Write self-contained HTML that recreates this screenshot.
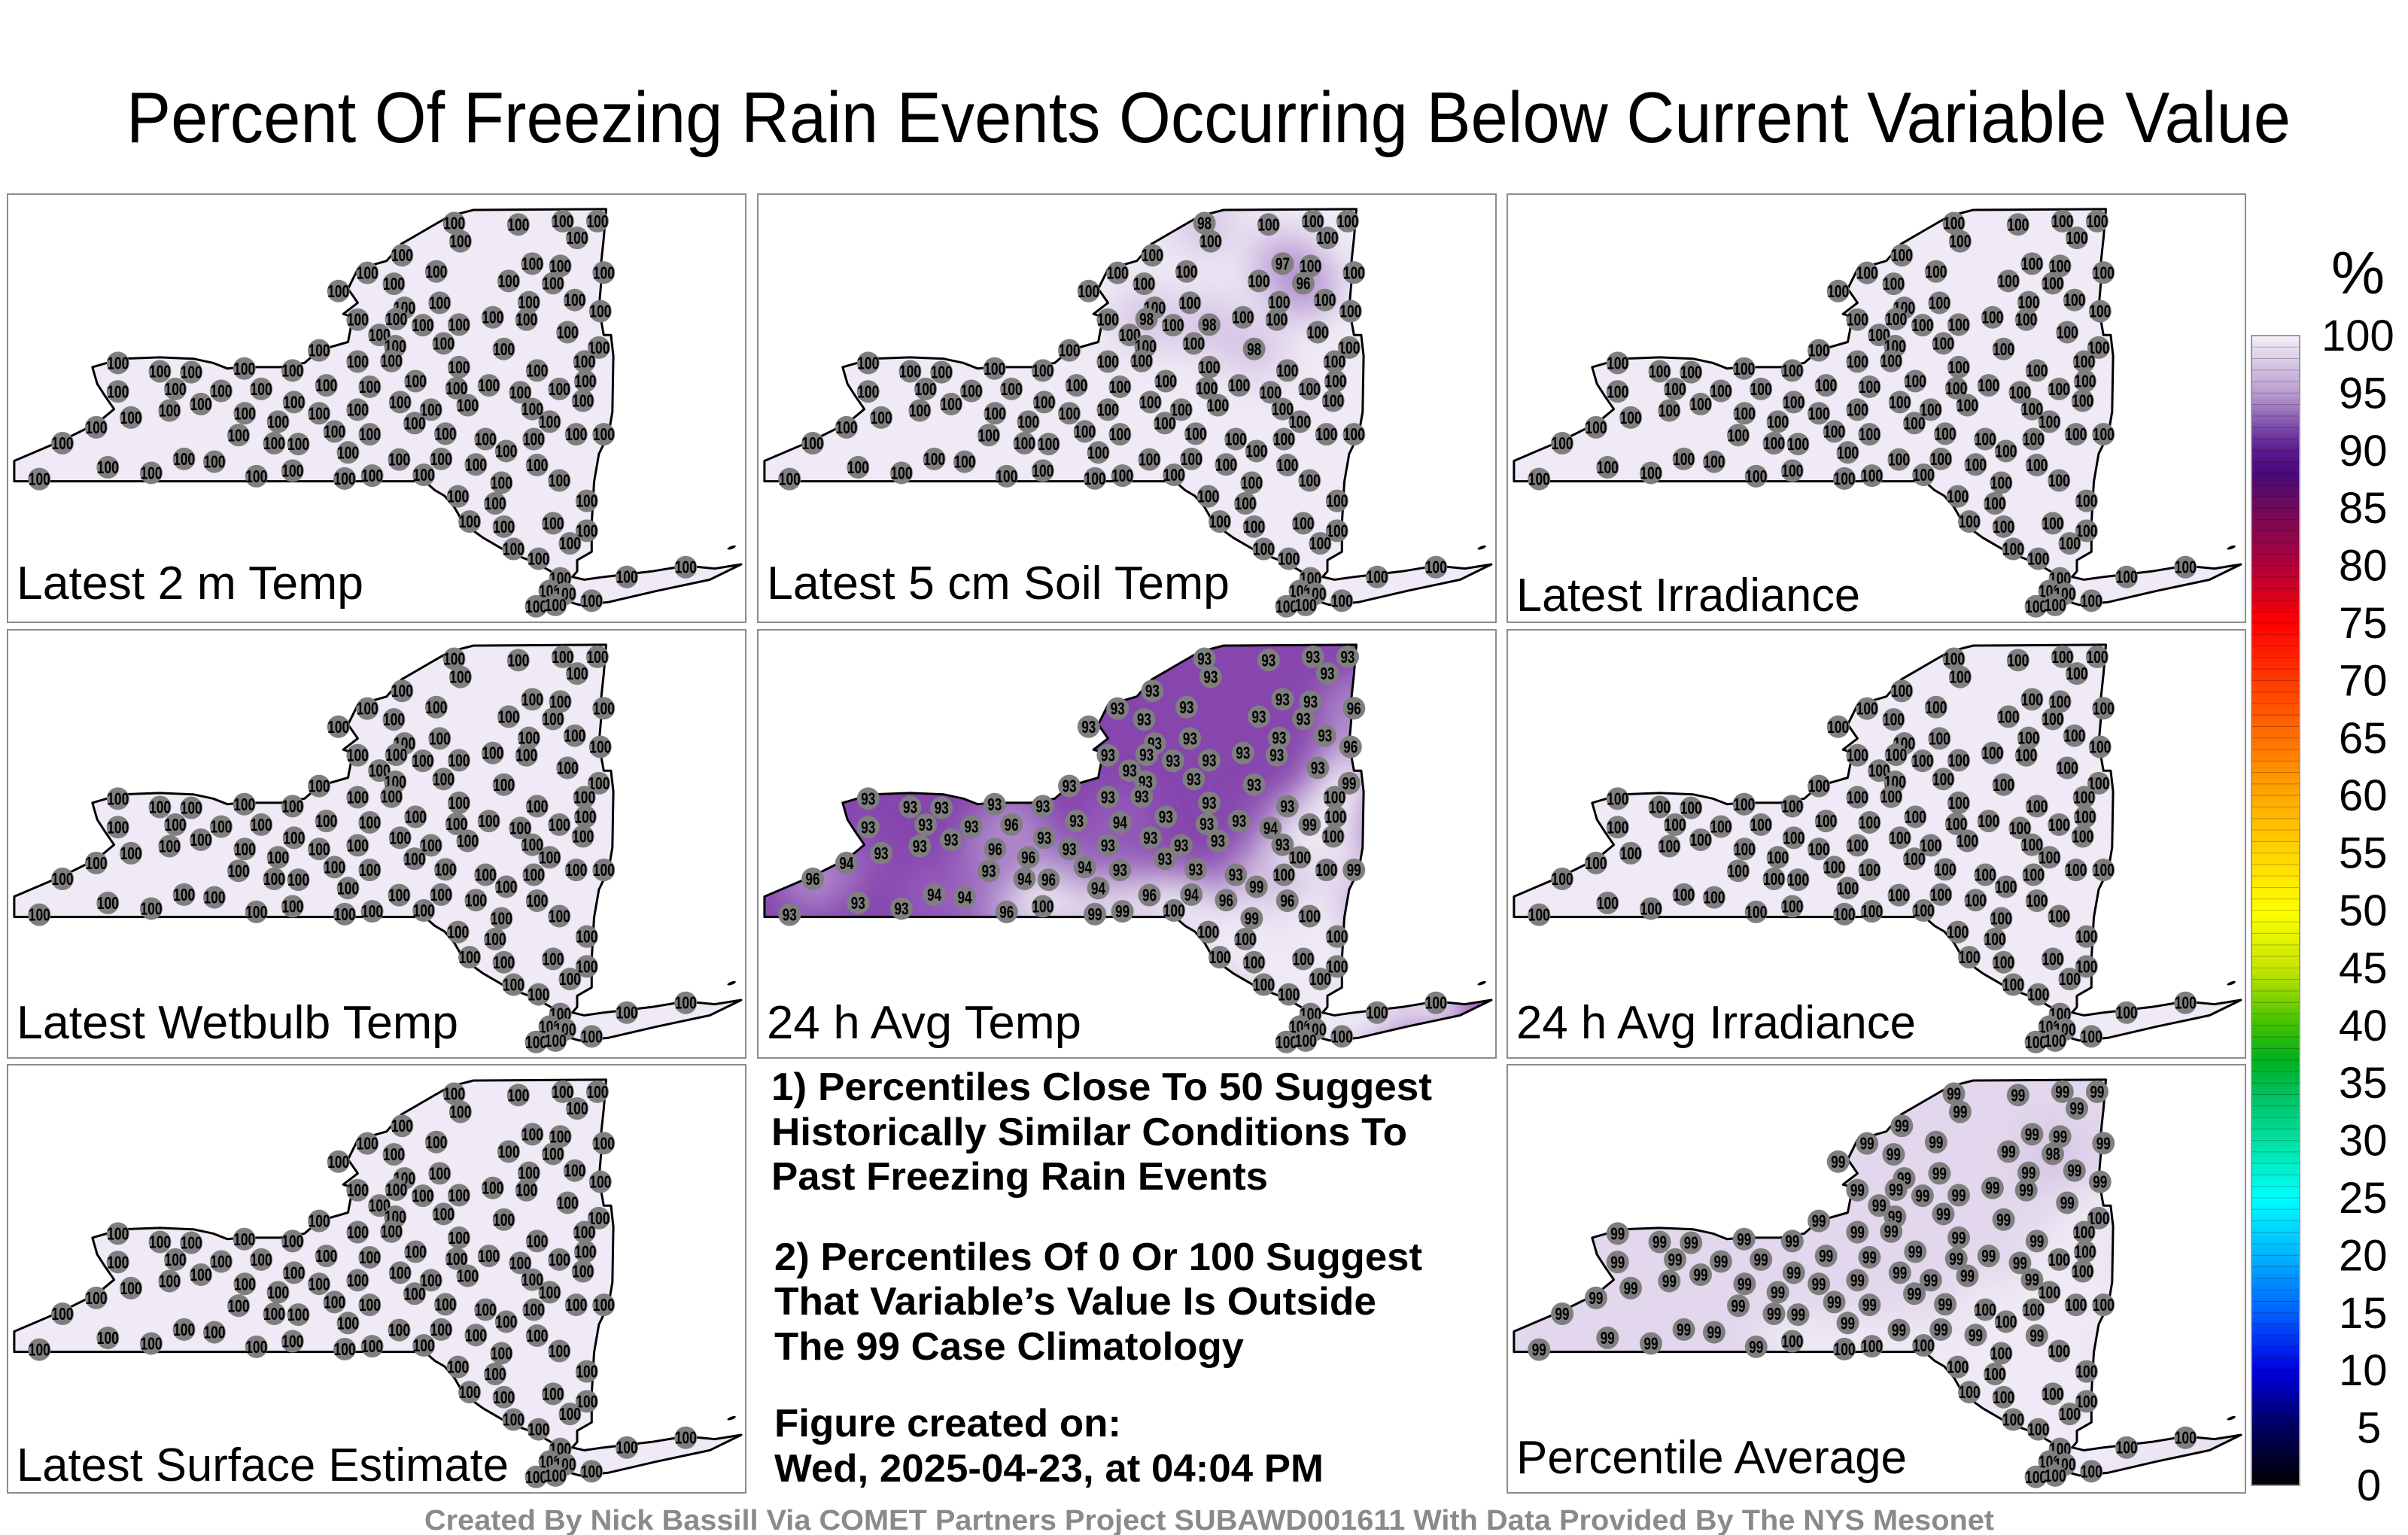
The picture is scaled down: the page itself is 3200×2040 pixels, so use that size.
<!DOCTYPE html>
<html><head><meta charset="utf-8"><style>
html,body{margin:0;padding:0;background:#fff;}
svg{display:block;font-family:"Liberation Sans",sans-serif;}
</style></head><body>
<svg id="fig" width="3200" height="2040" viewBox="0 0 3200 2040" xmlns="http://www.w3.org/2000/svg">
<defs>
<filter id="blur" x="-20%" y="-20%" width="140%" height="140%"><feGaussianBlur stdDeviation="24"/></filter>
<linearGradient id="cbar" x1="0" y1="0" x2="0" y2="1">
<stop offset="0" stop-color="#f4f0f8"/><stop offset="0.05" stop-color="#b89dd1"/>
<stop offset="0.08" stop-color="#7b4aa9"/><stop offset="0.10" stop-color="#5a1a8f"/>
<stop offset="0.12" stop-color="#4a0a7a"/><stop offset="0.15" stop-color="#6e0a5a"/>
<stop offset="0.20" stop-color="#b0003a"/><stop offset="0.25" stop-color="#ff0000"/>
<stop offset="0.30" stop-color="#ff3a00"/><stop offset="0.35" stop-color="#ff7000"/>
<stop offset="0.40" stop-color="#ffa800"/><stop offset="0.45" stop-color="#ffd400"/>
<stop offset="0.50" stop-color="#ffff00"/><stop offset="0.55" stop-color="#c8e600"/>
<stop offset="0.60" stop-color="#40c000"/><stop offset="0.63" stop-color="#00b020"/>
<stop offset="0.66" stop-color="#00c060"/><stop offset="0.70" stop-color="#00e0a0"/>
<stop offset="0.75" stop-color="#00ffff"/><stop offset="0.80" stop-color="#00b4ff"/>
<stop offset="0.85" stop-color="#0060ff"/><stop offset="0.90" stop-color="#0000e0"/>
<stop offset="0.95" stop-color="#000060"/><stop offset="1" stop-color="#000000"/>
</linearGradient>
</defs>
<text x="168" y="189" font-size="96" textLength="2876" lengthAdjust="spacingAndGlyphs">Percent Of Freezing Rain Events Occurring Below Current Variable Value</text>
<g id="panels"></g>
<g font-weight="bold" font-size="52">
<text x="1025" y="1462" textLength="878" lengthAdjust="spacingAndGlyphs">1) Percentiles Close To 50 Suggest</text>
<text x="1025" y="1522" textLength="845" lengthAdjust="spacingAndGlyphs">Historically Similar Conditions To</text>
<text x="1025" y="1581" textLength="660" lengthAdjust="spacingAndGlyphs">Past Freezing Rain Events</text>
<text x="1029" y="1688" textLength="861" lengthAdjust="spacingAndGlyphs">2) Percentiles Of 0 Or 100 Suggest</text>
<text x="1029" y="1747" textLength="800" lengthAdjust="spacingAndGlyphs">That Variable’s Value Is Outside</text>
<text x="1029" y="1807" textLength="624" lengthAdjust="spacingAndGlyphs">The 99 Case Climatology</text>
<text x="1029" y="1909" textLength="461" lengthAdjust="spacingAndGlyphs">Figure created on:</text>
<text x="1029" y="1969" textLength="730" lengthAdjust="spacingAndGlyphs">Wed, 2025-04-23, at 04:04 PM</text>
</g>
<text x="564" y="2033" font-size="38" font-weight="bold" fill="#8a8a8a" textLength="2086" lengthAdjust="spacingAndGlyphs">Created By Nick Bassill Via COMET Partners Project SUBAWD001611 With Data Provided By The NYS Mesonet</text>
<g>
<rect x="2992" y="446" width="64" height="1528" fill="url(#cbar)"/>
<g id="cbarlines"></g>
<rect x="2992" y="446" width="64" height="1528" fill="none" stroke="#999" stroke-width="2"/>
<text x="3098" y="390" font-size="80">%</text>
<g id="cbarlabels" font-size="58"></g>
</g>
</svg>
<script>
// NY outline in map grid units
const outlineX=[28,28,130,200,235,215,200,190,250,330,400,440,470,500,580,630,660,720,730,710,740,720,740,800,830,890,930,980,1255,1250,1245,1245,1240,1250,1265,1270,1268,1260,1240,1230,1225,1225,1195,1195,1185,1210,1250,1350,1420,1480,1535,1470,1360,1260,1200,1180,1160,1140,1120,1140,1150,1110,1050,1000,960,940,920,900,880,860];
const outlineY=[1048,975,900,840,790,740,700,640,610,605,610,625,645,640,640,625,580,550,460,450,410,360,290,260,200,140,100,78,75,180,260,330,430,525,525,600,800,880,950,1050,1200,1300,1330,1370,1390,1400,1390,1370,1350,1360,1345,1400,1440,1480,1490,1480,1500,1490,1460,1410,1380,1340,1300,1250,1200,1140,1100,1080,1050,1048];
const stationLon=[940,1073,1165,1237,1195,953,832,1102,1160,1250,760,903,1053,815,700,910,837,1095,1190,1243,820,740,1090,875,950,1020,1175,785,918,818,1043,1240,660,740,810,1210,243,330,395,505,605,950,1112,243,362,457,540,675,765,860,945,1012,1077,1158,1212,1207,415,608,350,270,506,575,660,740,828,892,968,1102,1138,858,198,493,692,765,922,1005,1105,1193,1250,128,567,617,1048,720,380,443,222,826,913,985,1112,312,530,605,713,770,877,80,1038,1158,948,1215,1025,972,1043,1145,1215,1180,1063,1115,1160,1138,1170,1110,1150,1225,1298,1420,1145];
const stationLat=[125,130,118,118,178,190,240,270,278,302,303,298,332,342,368,410,428,408,400,440,468,470,470,490,488,462,515,525,555,565,575,570,580,620,618,620,625,655,658,645,652,640,652,727,718,725,718,705,710,690,715,705,730,718,690,760,772,765,795,820,805,835,805,792,765,792,776,790,835,840,855,883,870,880,878,897,897,880,880,912,912,915,940,945,968,978,998,970,968,988,990,1018,1030,1010,1038,1028,1025,1040,1053,1045,1102,1118,1127,1192,1210,1198,1225,1270,1290,1325,1395,1440,1450,1495,1490,1475,1390,1355,340];
const N=stationLon.length;
function fillAll(v){return new Array(N).fill(v);}
function withHead(head,rest,lastVal){const a=fillAll(rest);head.forEach((v,i)=>a[i]=v);a[N-1]=lastVal;return a;}
const valsTemp2m=fillAll(100);
const valsSoil=fillAll(100);
valsSoil[0]=98;valsSoil[7]=97;valsSoil[N-1]=96;valsSoil[20]=98;valsSoil[24]=98;valsSoil[30]=98;
const valsIrr=fillAll(100);
const valsWetbulb=fillAll(100);
const avgTempHead=[93,93,93,93,93,93,93,93,93,96, 93,93,93,93,93,93,93,93,93,96, 93,93,93,93,93,93,93,93,93,93,
 93,99,93,93,93,100,93,93,93,93, 93,93,93,93,93,93,96,93,94,93, 93,93,94,99,100,100,93,93,93,93,
 96,96,93,93,93,93,93,93,100,93, 94,93,94,93,93,93,100,100,99,96, 94,96,99,94,94,94,93,96,94,96,
 96,93,96,100,99,99,100,93,99,100];
const valsAvgTemp=withHead(avgTempHead,100,93);
const valsAvgIrr=fillAll(100);
const pctAvgHead=[99,99,99,99,99,99,99,99,99,99, 99,99,99,99,99,99,99,99,99,99, 99,99,99,99,99,99,99,99,99,99,
 99,100,99,99,99,100,99,99,99,99, 99,99,99,99,99,99,99,99,99,99, 99,99,99,100,100,100,99,99,99,99,
 99,99,99,99,99,99,99,99,100,99, 99,99,99,99,99,100,100,100,100,99, 99,99,100,99,99,99,99,99,99,99,
 99,99,99,100,100,100,100,99,100,100];
const valsPctAvg=withHead(pctAvgHead,100,98);
const panelTitles=["Latest 2 m Temp","Latest 5 cm Soil Temp","Latest Irradiance","Latest Wetbulb Temp","24 h Avg Temp","24 h Avg Irradiance","Latest Surface Estimate",null,"Percentile Average"];
const panelValues=[valsTemp2m,valsSoil,valsIrr,valsWetbulb,valsAvgTemp,valsAvgIrr,valsTemp2m,null,valsPctAvg];
const panelBase=[100,100,100,100,93,100,100,null,99];
const cbarTicks=[100,95,90,85,80,75,70,65,60,55,50,45,40,35,30,25,20,15,10,5,0];

const NS="http://www.w3.org/2000/svg";
const colX=[10,1007,2003], rowY=[258,837,1415], PW=981, PH=569;
const labelLen=[461,615,457,587,418,531,654,0,519];
const labelBase=[538,538,554,543,543,543,553,0,543];
function mx(x){return x/1.56-9;}
function my(y){return y/2.69-8;}
const colorStops=[[100,[239,234,245]],[99,[226,215,236]],[98,[214,197,229]],[96,[176,140,205]],[94,[150,95,188]],[93,[134,70,174]],[90,[90,26,143]]];
function vcolor(v){
  for(let i=0;i<colorStops.length-1;i++){const a=colorStops[i],b=colorStops[i+1];
    if(v<=a[0]&&v>=b[0]){const t=(a[0]-v)/(a[0]-b[0]);
      const c=a[1].map((q,k)=>Math.round(q+(b[1][k]-q)*t));return `rgb(${c.join(',')})`;}}
  return v>100?'rgb(239,234,245)':'rgb(90,26,143)';
}
function el(tag,attrs,parent){const e=document.createElementNS(NS,tag);for(const k in attrs)e.setAttribute(k,attrs[k]);if(parent)parent.appendChild(e);return e;}
const pts=outlineX.map((x,i)=>mx(x).toFixed(1)+','+my(outlineY[i]).toFixed(1)).join(' ');
const panelsG=document.getElementById('panels');
for(let p=0;p<9;p++){
  if(p===7)continue;
  const ox=colX[p%3], oy=rowY[Math.floor(p/3)];
  const g=el('g',{transform:`translate(${ox},${oy})`},panelsG);
  
  
  el('rect',{x:0,y:0,width:PW,height:PH,fill:'#fff',stroke:'#8c8c8c','stroke-width':2},g);
  const cp=el('clipPath',{id:'clip'+p},g);
  el('polygon',{points:pts},cp);
  const fg=el('g',{'clip-path':`url(#clip${p})`},g);
  const vals=panelValues[p];
  el('polygon',{points:pts,fill:vcolor(panelBase[p])},fg);
  const bg=el('g',{filter:'url(#blur)'},fg);
  for(let i=0;i<N;i++){
    if(vals[i]===panelBase[p])continue;
    el('circle',{cx:mx(stationLon[i]),cy:my(stationLat[i]),r:42,fill:vcolor(vals[i])},bg);
  }
  const ol=el('polygon',{points:pts,fill:'none',stroke:'#000','stroke-width':3,'stroke-linejoin':'round'},g);
  
  
  el('ellipse',{cx:mx(1515),cy:my(1285),rx:6,ry:2,fill:'#000',transform:`rotate(-20 ${mx(1515)} ${my(1285)})`},g);
  const sg=el('g',{},g);
  
  
  for(let i=0;i<N;i++){
    const cx=mx(stationLon[i]), cy=my(stationLat[i]);
    const d=el('ellipse',{cx:cx,cy:cy,rx:15,ry:15,fill:'#7f7f7f'},sg);
    
    
    const s=String(vals[i]);
    const t=el('text',{x:cx,y:cy+8,'text-anchor':'middle','font-size':23,'font-weight':'bold',textLength:s.length===3?29:19,lengthAdjust:'spacingAndGlyphs'},sg);
    t.textContent=s;
    
    
  }
  const lt=el('text',{x:12,y:labelBase[p],'font-size':62,textLength:labelLen[p],lengthAdjust:'spacingAndGlyphs'},g);
  lt.textContent=panelTitles[p];
  
  
}
// colorbar bands and labels
const cl=document.getElementById('cbarlines');
for(let k=1;k<100;k++){
  const y=446+1528*k/100;
  el('line',{x1:2992,x2:3056,y1:y,y2:y,stroke:'#000','stroke-width':1,'stroke-opacity':0.25},cl);
}
const lab=document.getElementById('cbarlabels');
cbarTicks.forEach(v=>{
  const y=446+1528*(100-v)/100;
  const t=el('text',{x:v===100?3085:(v<10?3132:3108),y:y+20},lab);
  t.textContent=String(v);
  
  
});
</script>
</body></html>
